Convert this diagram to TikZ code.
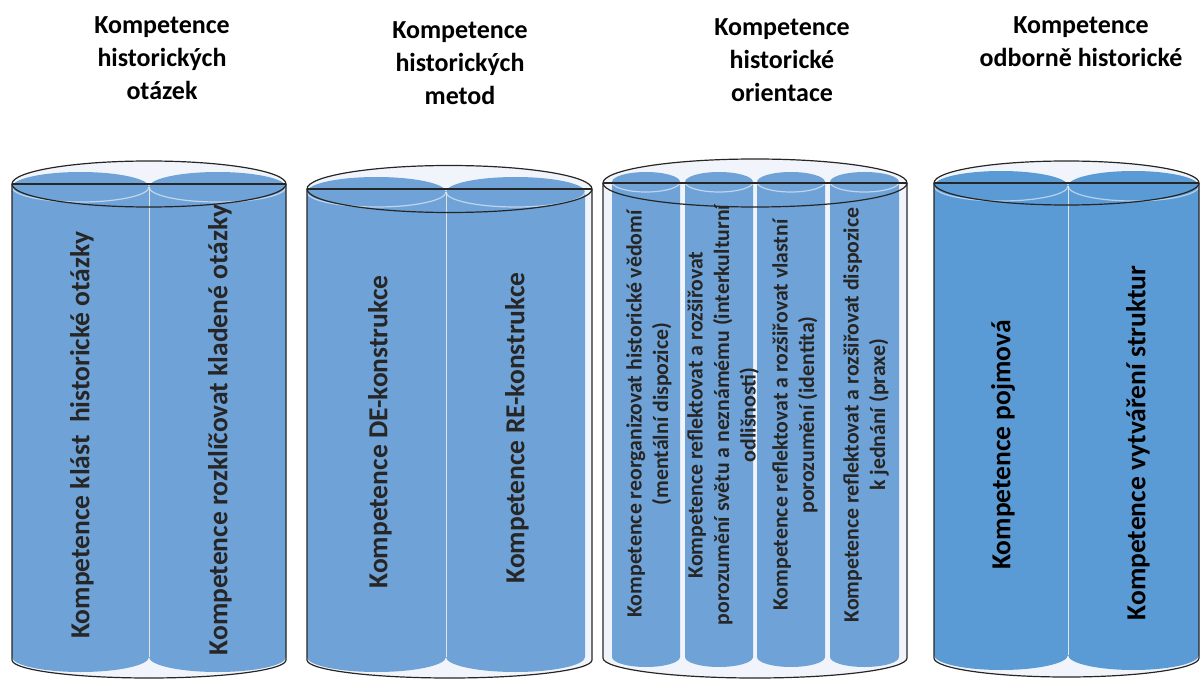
\documentclass[tikz,border=0pt]{standalone}
\usepackage{fontspec}
\setmainfont{Carlito}
\definecolor{colblue}{HTML}{6FA3D8}
\definecolor{colbluedark}{HTML}{5B9BD5}
\definecolor{outerfill}{HTML}{F1F5FB}
\definecolor{txtgray}{HTML}{262626}
\newcommand\OuterCylFill[6]{% L R yc rt yb rb
  \fill[outerfill] (#1,-#3) -- (#1,-#5) arc[start angle=180,end angle=360,x radius={(#2-#1)/2},y radius=#6]
    -- (#2,-#3) arc[start angle=0,end angle=180,x radius={(#2-#1)/2},y radius=#4] -- cycle;}
\newcommand\OuterCylLine[6]{%
  \draw[cylline] (#1,-#3) -- (#1,-#5) arc[start angle=180,end angle=360,x radius={(#2-#1)/2},y radius=#6] -- (#2,-#3);
  \draw[cylline] ({(#1+#2)/2},-#3) ellipse[x radius={(#2-#1)/2},y radius=#4];
  \draw[cylline] (#1,-#3) -- (#2,-#3);}
\newcommand\InnerCol[7]{% a b yc rt yb rb colour
  \fill[#7] (#1,-#3) -- (#1,-#5) arc[start angle=180,end angle=360,x radius={(#2-#1)/2},y radius=#6]
    -- (#2,-#3) arc[start angle=0,end angle=180,x radius={(#2-#1)/2},y radius=#4] -- cycle;
  \draw[white,opacity=.55,line width=1.2] (#1,-#3) arc[start angle=180,end angle=360,x radius={(#2-#1)/2},y radius=#4];}
\tikzset{
  cylline/.style={draw=black!85,line width=1.2},
  divline/.style={draw=white!80!gray,line width=1},
  title/.style={font=\bfseries\fontsize{26}{33}\selectfont,align=center,text=black,inner sep=0},
  coltext/.style={rotate=90,font=\bfseries\fontsize{27.5}{33}\selectfont,text=txtgray,inner sep=0,align=center},
  coltextsmall/.style={rotate=90,font=\bfseries\fontsize{21.8}{26.5}\selectfont,text=txtgray,inner sep=0,align=center},
}
\begin{document}
\begin{tikzpicture}[x=1pt,y=1pt]
\useasboundingbox (0,0) rectangle (1200,-679);
% ---- cylinder 1
\OuterCylFill{12}{286}{184}{23}{660}{18}
\InnerCol{12}{149}{187}{15}{657}{15}{colblue}
\InnerCol{149}{286}{187}{15}{657}{15}{colblue}
\draw[divline] (149,-187) -- (149,-657);
\OuterCylLine{12}{286}{184}{23}{660}{18}
% ---- cylinder 2
\OuterCylFill{307}{592}{189}{23.5}{660}{18}
\InnerCol{307}{446}{192}{15}{657}{15}{colblue}
\InnerCol{446}{585}{192}{15}{657}{15}{colblue}
\draw[divline] (446,-192) -- (446,-657);
\OuterCylLine{307}{592}{189}{23.5}{660}{18}
% ---- cylinder 3
\OuterCylFill{603}{907}{183}{24}{658}{20}
\InnerCol{612}{680}{182}{10}{657}{10}{colblue}
\InnerCol{685}{753}{182}{10}{657}{10}{colblue}
\InnerCol{757}{825}{182}{10}{657}{10}{colblue}
\InnerCol{830}{899}{182}{10}{657}{10}{colblue}
\OuterCylLine{603}{907}{183}{24}{658}{20}
% ---- cylinder 4
\OuterCylFill{934}{1199}{183}{22}{658}{19}
\InnerCol{934}{1068}{186}{15}{655}{15}{colbluedark}
\InnerCol{1068}{1199}{186}{15}{655}{15}{colbluedark}
\draw[divline] (1068,-186) -- (1068,-655);
\OuterCylLine{934}{1199}{183}{22}{658}{19}
% ---- titles
\node[title] (t1) at (162,-58) {Kompetence\\historických\\otázek};
\node[title] (t2) at (460,-63) {Kompetence\\historických\\metod};
\node[title] (t3) at (782,-60) {Kompetence\\historické\\orientace};
\node[title] (t4) at (1081,-42) {Kompetence\\odborně historické};
% ---- column texts
\node[coltext] (c11) at (82,-435) {Kompetence klást\ \ historické otázky};
\node[coltext] (c12) at (220,-430) {Kompetence rozklíčovat kladené otázky};
\node[coltext] (c21) at (380,-432) {Kompetence DE-konstrukce};
\node[coltext] (c22) at (517,-428) {Kompetence RE-konstrukce};
\node[coltextsmall] (c31) at (649,-414) {Kompetence reorganizovat historické vědomí\\(mentální dispozice)};
\node[coltextsmall] (c32) at (723,-415) {Kompetence reflektovat a rozšiřovat\\porozumění světu a neznámému (interkulturní\\odlišnosti)};
\node[coltextsmall] (c33) at (795,-415) {Kompetence reflektovat a rozšiřovat vlastní\\porozumění (identita)};
\node[coltextsmall] (c34) at (866,-415) {Kompetence reflektovat a rozšiřovat dispozice\\k jednání (praxe)};
\node[coltext,text=black] (c41) at (1003,-445) {Kompetence pojmová};
\node[coltext,text=black] (c42) at (1138,-443) {Kompetence vytváření struktur};
\end{tikzpicture}
\end{document}
